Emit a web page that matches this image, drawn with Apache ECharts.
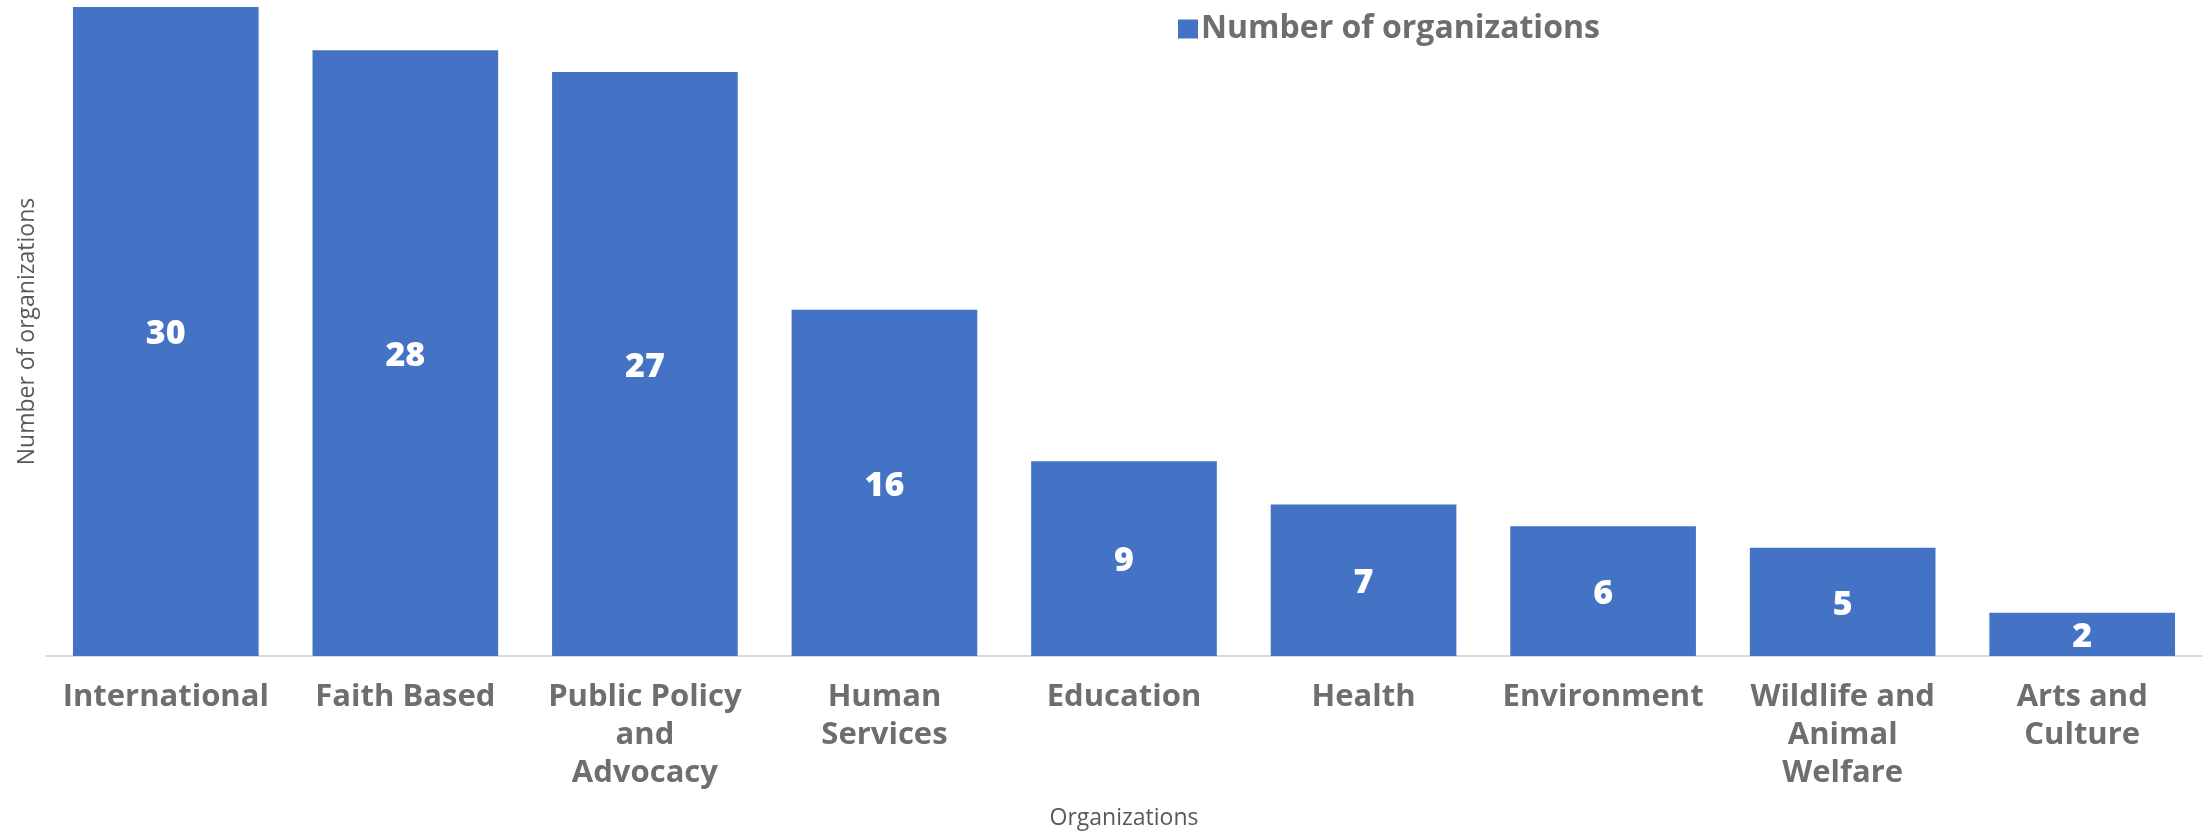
<!DOCTYPE html>
<html>
<head>
<meta charset="utf-8">
<script src="https://cdn.jsdelivr.net/npm/echarts@6/dist/echarts.min.js"></script>
<style>
  html, body { margin: 0; padding: 0; background: #ffffff; }
  #chart { width: 2211px; height: 834px; }
</style>
</head>
<body>
<div id="chart"></div>
<script>
// Organizations by cause area
const categories = [
  'International', 'Faith Based', 'Public Policy and Advocacy', 'Human Services',
  'Education', 'Health', 'Environment', 'Wildlife and Animal Welfare', 'Arts and Culture'
];
// Wrapped tick labels, one entry per category
const tickLabels = [
  'International', 'Faith Based', 'Public Policy\nand\nAdvocacy', 'Human\nServices',
  'Education', 'Health', 'Environment', 'Wildlife and\nAnimal\nWelfare', 'Arts and\nCulture'
];
const counts = [30, 28, 27, 16, 9, 7, 6, 5, 2];
const seriesName = 'Number of organizations';

const chart = echarts.init(document.getElementById('chart'), null, { renderer: 'canvas' });
chart.setOption({
  animation: false,
  backgroundColor: '#ffffff',
  textStyle: { fontFamily: 'Open Sans' },
  legend: {
    left: 1173,
    top: 8,
    itemWidth: 20,
    itemHeight: 19,
    itemGap: 6,
    icon: 'rect',
    textStyle: { fontFamily: 'Open Sans', fontWeight: 700, fontSize: 32, color: '#6e6e6e', padding: [0, 0, 0, -2] },
    data: [seriesName]
  },
  grid: { left: 46, right: 9, top: 7, bottom: 178, outerBoundsMode: 'none' },
  xAxis: {
    type: 'category',
    data: categories,
    name: 'Organizations',
    nameLocation: 'middle',
    nameGap: 151,
    nameTextStyle: { fontFamily: 'Open Sans', fontSize: 23, color: '#595959' },
    axisLine: { show: true, lineStyle: { color: '#d9d9d9', width: 2 } },
    axisTick: { show: false },
    axisLabel: {
      interval: 0,
      margin: 22,
      fontFamily: 'Open Sans',
      fontWeight: 700,
      fontSize: 31,
      lineHeight: 38,
      color: '#6e6e6e',
      formatter: (value, index) => tickLabels[index]
    }
  },
  yAxis: {
    type: 'value',
    min: 0,
    max: 30,
    interval: 10,
    name: 'Number of organizations',
    nameLocation: 'middle',
    nameGap: 7,
    nameRotate: 90,
    nameTextStyle: { fontFamily: 'Open Sans', fontSize: 23, color: '#595959' },
    axisLine: { show: false },
    axisTick: { show: false },
    axisLabel: { show: false },
    splitLine: { show: false }
  },
  series: [{
    name: seriesName,
    type: 'bar',
    data: counts,
    barCategoryGap: '22.5%',
    itemStyle: { color: '#4472C4' },
    label: {
      show: true,
      position: 'inside',
      offset: [0, 3],
      color: '#ffffff',
      fontFamily: 'Open Sans',
      fontWeight: 800,
      fontSize: 34
    }
  }]
});
</script>
</body>
</html>
